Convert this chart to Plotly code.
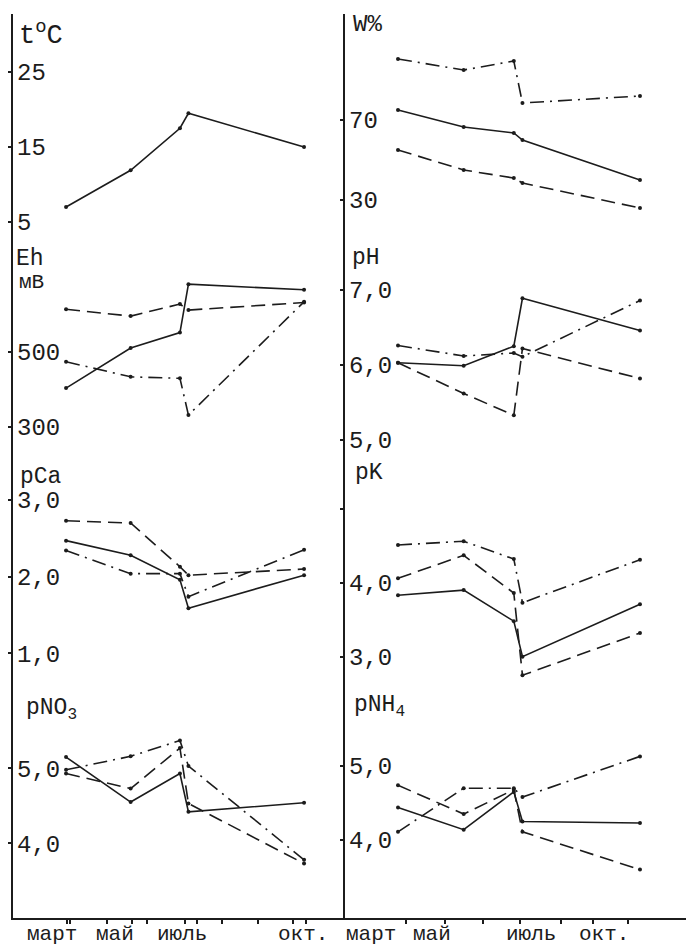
import plotly.graph_objects as go

# ---------------- data ----------------
sample_months = [3.0, 4.9, 6.35, 6.6, 10.0]

t_C = [7.0, 11.9, 17.5, 19.5, 15.0]

W_solid = [75, 66.5, 63.5, 60, 40]
W_dash = [55, 45, 41, 38.5, 26]
W_dashdot = [100.5, 95, 99.5, 78.5, 82]

Eh_solid = [403, 510, 551, 680, 665]
Eh_dash = [613, 595, 627, 611, 631]
Eh_dashdot = [473, 433, 429, 331, 633]

pH_solid = [6.03, 5.99, 6.25, 6.89, 6.46]
pH_dash = [6.03, 5.62, 5.33, 6.22, 5.82]
pH_dashdot = [6.26, 6.12, 6.16, 6.11, 6.86]

pCa_solid = [2.47, 2.28, 1.96, 1.59, 2.02]
pCa_dash = [2.73, 2.70, 2.13, 2.02, 2.10]
pCa_dashdot = [2.34, 2.04, 2.04, 1.74, 2.35]

pK_solid = [3.83, 3.90, 3.48, 3.00, 3.71]
pK_dash = [4.06, 4.37, 3.86, 2.75, 3.32]
pK_dashdot = [4.51, 4.56, 4.32, 3.73, 4.31]

pNO3_solid = [5.15, 4.55, 4.93, 4.42, 4.54]
pNO3_dash = [4.93, 4.73, 5.27, 4.53, 3.73]
pNO3_dashdot = [4.98, 5.16, 5.37, 5.03, 3.78]

pNH4_solid = [4.44, 4.14, 4.65, 4.25, 4.23]
pNH4_dash = [4.74, 4.35, 4.68, 4.11, 3.60]
pNH4_dashdot = [4.11, 4.70, 4.70, 4.58, 5.13]

month_labels = ["март", "май", "июль", "окт."]
left_label_pos = [2.59, 4.44, 6.41, 9.97]
right_label_pos = [2.22, 3.98, 6.85, 8.96]
left_tick_marks = [2.15, 3.03, 3.12, 4.20, 4.94, 5.38, 6.50, 6.85, 7.59, 8.65, 9.68, 10.06]
right_tick_marks = [2.19, 3.23, 4.36, 5.46, 6.53, 7.71, 8.64, 9.65]

# ---------------- layout helpers ----------------
W, H = 686, 946
FONT = "Liberation Mono"
INK = "#1c1c1c"

def fy(p):
    return 1 - p / H

def fx(p):
    return p / W

rows_px = [(14, 240), (240, 465), (465, 690), (690, 918)]
xdom = {0: [fx(13), fx(345)], 1: [fx(345), 1.0]}
xrng = {0: [1.44, 1.44 + 332 / 34.0], 1: [1.467, 1.467 + 341 / 34.57]}

styles = {
    "solid": dict(dash="solid"),
    "dash": dict(dash="14px,7px"),
    "dashdot": dict(dash="14px,6px,2px,6px"),
}

panels = [
    # (row, col, series, ref value, ref pixel, px per unit, tickvals, ticktext)
    (0, 0, [("solid", t_C)], 15, 147, 7.5, [5, 15, 25], ["5", "15", "25"]),
    (0, 1, [("solid", W_solid), ("dash", W_dash), ("dashdot", W_dashdot)], 70, 120, 2.0, [30, 70], ["30", "70"]),
    (1, 0, [("solid", Eh_solid), ("dash", Eh_dash), ("dashdot", Eh_dashdot)], 500, 351.7, 0.375, [300, 500], ["300", "500"]),
    (1, 1, [("solid", pH_solid), ("dash", pH_dash), ("dashdot", pH_dashdot)], 6, 365, 75, [5, 6, 7], ["5,0", "6,0", "7,0"]),
    (2, 0, [("solid", pCa_solid), ("dash", pCa_dash), ("dashdot", pCa_dashdot)], 2, 576.7, 76.7, [1, 2, 3], ["1,0", "2,0", "3,0"]),
    (2, 1, [("solid", pK_solid), ("dash", pK_dash), ("dashdot", pK_dashdot)], 4, 582.7, 74, [3, 4, 5], ["3,0", "4,0", ""]),
    (3, 0, [("solid", pNO3_solid), ("dash", pNO3_dash), ("dashdot", pNO3_dashdot)], 5, 768.3, 75, [4, 5], ["4,0", "5,0"]),
    (3, 1, [("solid", pNH4_solid), ("dash", pNH4_dash), ("dashdot", pNH4_dashdot)], 5, 766, 74, [4, 5], ["4,0", "5,0"]),
]

fig = go.Figure()
layout = {}
for i, (row, col, series, ref, refpx, ppu, tv, tt) in enumerate(panels):
    n = i + 1
    xa = "x" if n == 1 else f"x{n}"
    ya = "y" if n == 1 else f"y{n}"
    top, bot = rows_px[row]
    yr = [ref - (bot - refpx) / ppu, ref + (refpx - top) / ppu]
    for style, vals in series:
        fig.add_trace(go.Scatter(
            x=sample_months, y=vals, mode="lines+markers",
            line=dict(color=INK, width=1.6, **styles[style]),
            marker=dict(size=4, color=INK),
            xaxis=xa, yaxis=ya, showlegend=False, hoverinfo="skip",
        ))
    xkey = "xaxis" if n == 1 else f"xaxis{n}"
    ykey = "yaxis" if n == 1 else f"yaxis{n}"
    xd = dict(domain=xdom[col], range=xrng[col], anchor=ya, showgrid=False,
              zeroline=False, automargin=False)
    if row == 3:
        xd.update(
            showline=True, linecolor=INK, linewidth=1.6,
            tickmode="array",
            tickvals=left_tick_marks if col == 0 else right_tick_marks,
            ticks="outside", ticklen=4, tickwidth=2, tickcolor=INK,
            showticklabels=False,
        )
        for lab, pos in zip(month_labels, left_label_pos if col == 0 else right_label_pos):
            fig.add_annotation(
                text=lab, x=pos, y=fy(934), xref=xa, yref="paper",
                xanchor="center", yanchor="middle", showarrow=False,
                font=dict(family=FONT, size=21, color=INK),
            )
    else:
        xd.update(showline=False, showticklabels=False, ticks="")
    layout[xkey] = xd
    layout[ykey] = dict(
        domain=[fy(bot), fy(top)], range=yr, anchor=xa,
        showline=True, linecolor=INK, linewidth=1.6,
        showgrid=False, zeroline=False, automargin=False,
        tickmode="array", tickvals=tv, ticktext=tt,
        ticks="outside", ticklen=3, tickwidth=2, tickcolor=INK,
        ticklabelposition="inside", ticklabelstandoff=6,
        tickfont=dict(family=FONT, size=24, color=INK),
    )

fig.update_layout(**layout)

titles = [
    ("t<sup>o</sup>C", 17, 34, 27),
    ("W%", 351, 25, 24),
    ("Eh", 14, 259, 23),
    ("мВ", 17, 283, 21),
    ("pH", 350, 258, 23),
    ("pCa", 18, 477, 23),
    ("pK", 353, 473, 23),
    ("pNO<sub>3</sub>", 24, 709, 23),
    ("pNH<sub>4</sub>", 352, 706, 23),
]
for text, x, y, size in titles:
    fig.add_annotation(
        text=text, x=fx(x), y=fy(y), xref="paper", yref="paper",
        xanchor="left", yanchor="middle", showarrow=False,
        font=dict(family=FONT, size=size, color=INK),
    )

fig.update_layout(
    width=W, height=H,
    margin=dict(l=0, r=0, t=0, b=0),
    paper_bgcolor="white", plot_bgcolor="white",
    showlegend=False,
)

fig.write_html(
    "out.html",
    config={"displayModeBar": False},
    post_script="document.body.style.margin='0';document.body.style.overflow='hidden';",
)
